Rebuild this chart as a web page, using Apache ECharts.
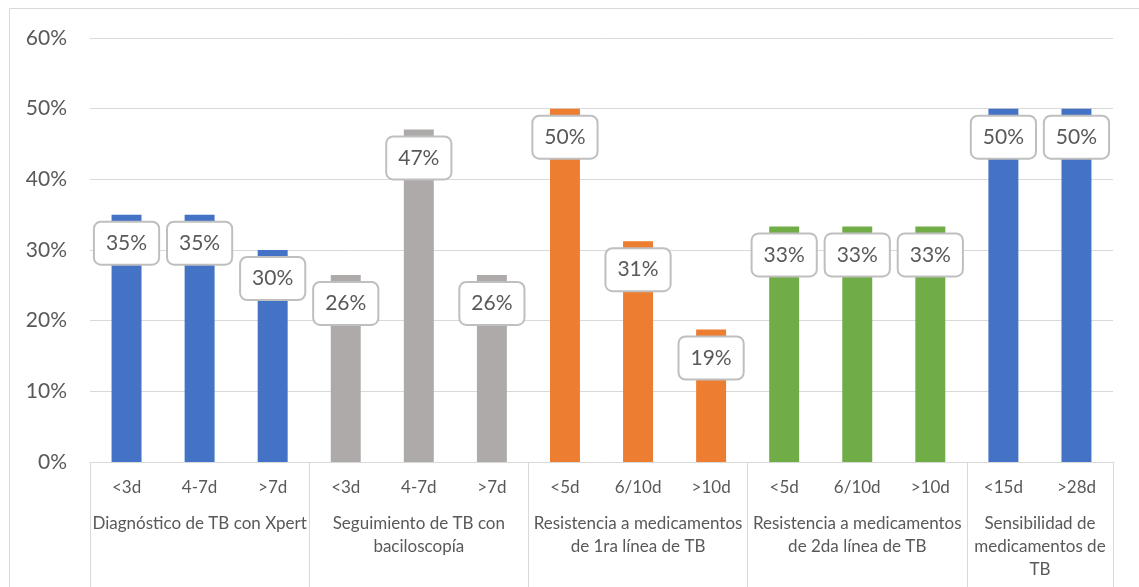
<!DOCTYPE html>
<html>
<head>
<meta charset="utf-8">
<script src="https://cdn.jsdelivr.net/npm/echarts@6/dist/echarts.min.js"></script>
<style>
html,body{margin:0;padding:0;background:#fff;}
#chart{width:1139px;height:587px;}
</style>
</head>
<body>
<div id="chart"></div>
<script>
// ---- data ----
const subCategories = ['<3d','4-7d','>7d','<3d','4-7d','>7d','<5d','6/10d','>10d','<5d','6/10d','>10d','<15d','>28d'];
const values = [35, 35, 30, 26.47, 47.06, 26.47, 50, 31.25, 18.75, 33.33, 33.33, 33.33, 50, 50];
const groupNames = [
  'Diagnóstico de TB con Xpert',
  'Seguimiento de TB con\nbaciloscopía',
  'Resistencia a medicamentos\nde 1ra línea de TB',
  'Resistencia a medicamentos\nde 2da línea de TB',
  'Sensibilidad de\nmedicamentos de\nTB'
];
const groupSizes = [3, 3, 3, 3, 2];
const yTicks = [0, 10, 20, 30, 40, 50, 60];

// ---- styles ----
const groupColors = ['#4472C4', '#AEAAAA', '#ED7D31', '#70AD47', '#4472C4'];
const FONT = 'Lato';
const TXT = '#595959';
const LINE = '#d9d9d9';

// build per-bar colors
const barColors = [];
groupSizes.forEach((n, g) => { for (let i = 0; i < n; i++) barColors.push(groupColors[g]); });

// group axis on half-category units (boundaryGap false)
const totalHalf = subCategories.length * 2;
const groupAxisData = new Array(totalHalf + 1).fill('');
const boundaries = new Set([0]);
const centers = new Set();
let acc = 0;
groupSizes.forEach((n, g) => {
  const c = acc * 2 + n; // center in half units
  groupAxisData[c] = groupNames[g];
  centers.add(c);
  acc += n;
  boundaries.add(acc * 2);
});

const chart = echarts.init(document.getElementById('chart'));
chart.setOption({
  animation: false,
  backgroundColor: '#fff',
  graphic: [{
    type: 'rect',
    shape: { x: 9.5, y: 8.5, width: 1300, height: 700 },
    style: { fill: 'none', stroke: LINE, lineWidth: 1 },
    silent: true, z: -1
  }],
  grid: { left: 90, right: 26, top: 38, bottom: 125, containLabel: false },
  xAxis: [{
    type: 'category',
    data: subCategories,
    axisLine: { show: true, lineStyle: { color: LINE, width: 1 } },
    axisTick: { show: false },
    axisLabel: { color: TXT, fontFamily: FONT, fontSize: 17, margin: 17, interval: 0 }
  }, {
    type: 'category',
    position: 'bottom',
    boundaryGap: false,
    data: groupAxisData,
    axisLine: { show: false },
    axisTick: {
      show: true, length: 130,
      interval: (i) => boundaries.has(i),
      lineStyle: { color: LINE, width: 1 }
    },
    axisLabel: {
      color: TXT, fontFamily: FONT, fontSize: 17, lineHeight: 23, margin: 50,
      interval: (i) => centers.has(i), align: 'center'
    }
  }],
  yAxis: {
    type: 'value',
    min: yTicks[0], max: yTicks[yTicks.length - 1], interval: 10,
    axisLine: { show: false },
    axisTick: { show: false },
    splitLine: { lineStyle: { color: LINE, width: 1 } },
    axisLabel: { color: TXT, fontFamily: FONT, fontSize: 21, margin: 23, formatter: '{value}%' }
  },
  series: [{
    type: 'bar',
    xAxisIndex: 0,
    barWidth: '41%',
    data: values.map((v, i) => ({ value: v, itemStyle: { color: barColors[i] } })),
    label: {
      show: true,
      position: 'insideTop',
      distance: 8,
      formatter: (p) => Math.round(p.value) + '%',
      color: TXT, fontFamily: FONT, fontSize: 21,
      backgroundColor: '#fff',
      borderColor: '#bfbfbf', borderWidth: 2, borderRadius: 6,
      padding: [10, 11, 10, 11]
    }
  }]
});
</script>
</body>
</html>
